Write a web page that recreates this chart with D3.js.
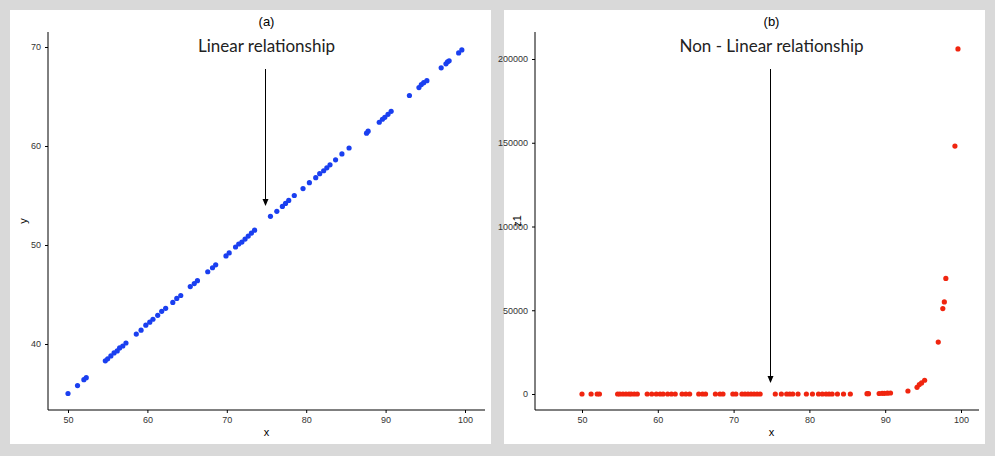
<!DOCTYPE html>
<html><head><meta charset="utf-8">
<script src="https://cdn.jsdelivr.net/npm/d3@7"></script>
<style>body{margin:0;background:#d9d9d9;font-family:Lato,"DejaVu Sans",sans-serif}</style>
</head><body>
<script>
// shared x values
var xs = [50, 51.2, 52, 52.3, 54.7, 55, 55.4, 55.8, 56.2, 56.5, 56.9, 57.3, 58.6, 59.2, 59.8, 60.3, 60.7, 61.3, 61.8, 62.3,
  63.2, 63.7, 64.2, 65.4, 65.9, 66.3, 67.6, 68.2, 68.6, 69.9, 70.3, 71.1, 71.5, 71.9, 72.3, 72.7, 73.1, 73.5, 75.5, 76.3,
  77.0, 77.4, 77.8, 78.5, 79.6, 80.4, 81.2, 81.7, 82.2, 82.6, 83.0, 83.7, 84.5, 85.4, 87.6, 87.8, 89.2, 89.6, 89.9, 90.3,
  90.7, 93.0, 94.2, 94.5, 94.8, 95.2, 97.0, 97.6, 97.8, 98.0, 99.2, 99.6];
// linear series y
var ys = [35.0, 35.8, 36.4, 36.6, 38.3, 38.5, 38.8, 39.1, 39.3, 39.6, 39.8, 40.1, 41.0, 41.4, 41.9, 42.2, 42.5, 42.9, 43.3, 43.6,
  44.2, 44.6, 44.9, 45.8, 46.1, 46.4, 47.3, 47.7, 48.0, 48.9, 49.2, 49.8, 50.1, 50.3, 50.6, 50.9, 51.2, 51.5, 52.9, 53.4,
  53.9, 54.2, 54.5, 55.0, 55.7, 56.3, 56.8, 57.2, 57.5, 57.8, 58.1, 58.6, 59.2, 59.8, 61.3, 61.5, 62.4, 62.7, 62.9, 63.2,
  63.5, 65.1, 65.9, 66.2, 66.4, 66.6, 67.9, 68.3, 68.5, 68.6, 69.4, 69.7];
// non-linear series z1 (flat near 0 until ~93)
var z1 = [0, 0, 0, 0, 0, 0, 0, 0, 0, 0, 0, 0, 0, 0, 0, 0, 0, 0, 0, 0,
  0, 0, 0, 0, 0, 0, 0, 0, 0, 0, 0, 0, 0, 0, 0, 0, 0, 0, 0, 0,
  0, 0, 0, 0, 0, 0, 0, 0, 0, 0, 0, 0, 0, 0, 200, 200, 300, 400, 400, 500,
  600, 1800, 4000, 5600, 6600, 8200, 31000, 51000, 55000, 69000, 148000, 206000];
var xTicks = [50, 60, 70, 80, 90, 100];

var svg = d3.select('body').append('svg').attr('width', 995).attr('height', 456);

function panel(ox, vals, cfg) {
  var w = 481;
  svg.append('rect').attr('x', ox).attr('y', 10).attr('width', w).attr('height', 434).attr('fill', '#fff');
  var g = svg.append('g');
  var xScale = d3.scaleLinear().domain([50, 100]).range(cfg.xr);
  var yScale = d3.scaleLinear().domain(cfg.yd).range(cfg.yr);
  var left = cfg.axisX, bottom = 410;

  g.append('g').attr('transform', 'translate(0,' + bottom + ')')
    .call(d3.axisBottom(xScale).tickValues(xTicks).tickSize(3).tickPadding(4))
    .call(function(a) { a.select('.domain').attr('d', 'M' + left + ',0H' + (ox + 475)); });
  g.append('g').attr('transform', 'translate(' + left + ',0)')
    .call(d3.axisLeft(yScale).tickValues(cfg.yt).tickFormat(d3.format('d')).tickSize(3).tickPadding(4))
    .call(function(a) { a.select('.domain').attr('d', 'M0,32V' + bottom); });
  g.selectAll('.tick text').attr('font-family', 'Liberation Sans, Arial, sans-serif').attr('font-size', 9).attr('fill', '#333');

  g.selectAll('circle').data(xs).enter().append('circle')
    .attr('cx', function(d) { return xScale(d); })
    .attr('cy', function(d, i) { return yScale(vals[i]); })
    .attr('r', 2.6).attr('fill', cfg.color);

  var mid = (cfg.xr[0] + cfg.xr[1]) / 2;
  g.append('text').attr('x', mid).attr('y', 436).attr('text-anchor', 'middle')
    .attr('font-family', 'Liberation Sans, Arial, sans-serif').attr('font-size', 11).text('x');
  g.append('text').attr('transform', 'translate(' + (ox + 17) + ',' + 221 + ') rotate(-90)').attr('text-anchor', 'middle')
    .attr('font-family', 'Liberation Sans, Arial, sans-serif').attr('font-size', 11).text(cfg.yLabel);
  g.append('text').attr('x', mid).attr('y', 26).attr('text-anchor', 'middle')
    .attr('font-family', 'Liberation Sans, Arial, sans-serif').attr('font-size', 13).text(cfg.title);
  g.append('text').attr('x', mid).attr('y', 52).attr('text-anchor', 'middle')
    .attr('font-size', 17).attr('fill', '#222').text(cfg.note);
  var ax = xScale(75) - 1;
  g.append('line').attr('x1', ax).attr('x2', ax).attr('y1', 69).attr('y2', cfg.noteY - 6).attr('stroke', '#000').attr('stroke-width', 1);
  g.append('path').attr('d', 'M' + (ax - 3) + ',' + (cfg.noteY - 7) + 'L' + (ax + 3) + ',' + (cfg.noteY - 7) + 'L' + ax + ',' + cfg.noteY + 'Z');
}

panel(10, ys, { xr: [68, 465], yd: [40, 70], yr: [344, 47], yt: [40, 50, 60, 70], yLabel: 'y', title: '(a)',
  note: 'Linear relationship', noteY: 206, color: '#1a3ff0', axisX: 48 });
panel(504, z1, { xr: [582, 961], yd: [0, 200000], yr: [394, 59], yt: [0, 50000, 100000, 150000, 200000], yLabel: 'z1', title: '(b)',
  note: 'Non - Linear relationship', noteY: 383, color: '#f0250f', axisX: 535 });
</script>
</body></html>
